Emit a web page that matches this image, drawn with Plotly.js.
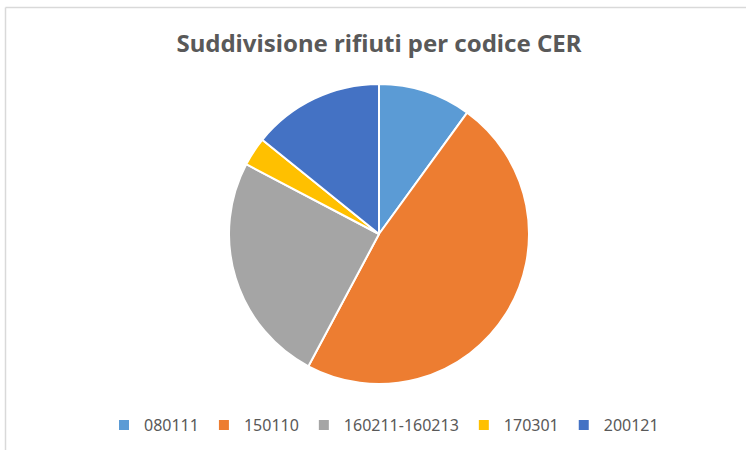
<!DOCTYPE html>
<html>
<head>
<meta charset="utf-8">
<script src="https://cdn.plot.ly/plotly-3.0.1.min.js"></script>
<style>
html,body{margin:0;padding:0;background:#fff;}
#chart{width:746px;height:450px;}
</style>
</head>
<body>
<div id="chart"></div>
<script>
var categories = ["080111", "150110", "160211-160213", "170301", "200121"];
var values = [10.0, 47.8, 24.9, 3.1, 14.2];
var colors = ["#5B9BD5", "#ED7D31", "#A5A5A5", "#FFC000", "#4472C4"];
var titleText = "Suddivisione rifiuti per codice CER";

var W = 746, H = 450;
var trace = {
  type: "pie",
  labels: categories,
  values: values,
  sort: false,
  direction: "clockwise",
  rotation: 0,
  textinfo: "none",
  hoverinfo: "label+percent",
  marker: {colors: colors, line: {color: "#ffffff", width: 2}},
  domain: {x: [229/W, 529/W], y: [1-384/H, 1-84/H]}
};

var layout = {
  width: W, height: H,
  margin: {l: 0, r: 0, t: 0, b: 0},
  paper_bgcolor: "#ffffff",
  title: {
    text: "<b>" + titleText + "</b>",
    font: {family: "Noto Sans, Open Sans, sans-serif", size: 24, color: "#595959"},
    x: 379/W, xanchor: "center", y: 1-44/H, yanchor: "middle"
  },
  showlegend: true,
  legend: {
    orientation: "h",
    x: 384/W, xanchor: "center",
    y: 1-425/H, yanchor: "middle",
    font: {family: "Noto Sans, sans-serif", size: 16, color: "#595959"},
    itemwidth: 30,
    traceorder: "normal"
  },
  shapes: [
    {type: "line", xref: "paper", yref: "paper", x0: 5.5/W, x1: 1, y0: 1-7.5/H, y1: 1-7.5/H, line: {color: "#d9d9d9", width: 1.5}},
    {type: "line", xref: "paper", yref: "paper", x0: 5.5/W, x1: 5.5/W, y0: 0, y1: 1-7.5/H, line: {color: "#d9d9d9", width: 1.5}}
  ]
};

Plotly.newPlot("chart", [trace], layout, {displayModeBar: false, staticPlot: true});
</script>
</body>
</html>
